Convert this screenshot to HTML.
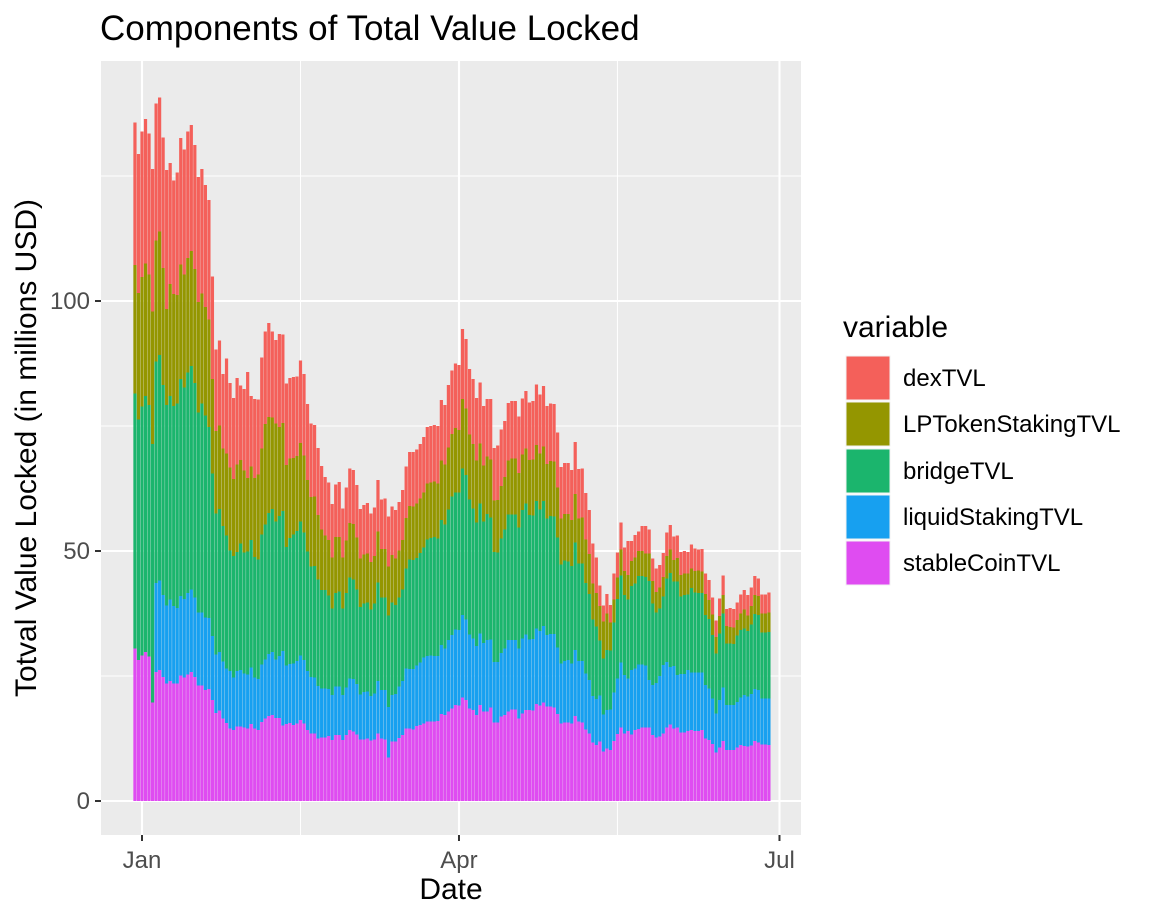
<!DOCTYPE html>
<html><head><meta charset="utf-8"><style>
html,body{margin:0;padding:0;background:#fff;}
svg{display:block;font-family:"Liberation Sans",Arial,sans-serif;}
</style></head><body>
<svg id="chart" width="1152" height="921" viewBox="0 0 1152 921">
<text x="100" y="40" font-size="35" fill="#000">Components of Total Value Locked</text>
<rect x="101" y="61" width="700" height="774" fill="#EBEBEB"/>
<g id="grid"></g>
<g id="bars"></g>
<g id="axes"></g>
<text x="451" y="899" font-size="30" text-anchor="middle" fill="#000">Date</text>
<text transform="translate(36,448) rotate(-90)" font-size="30" text-anchor="middle" fill="#000">Totval Value Locked (in millions USD)</text>
<g>
<text x="843" y="337" font-size="30" fill="#000">variable</text>
<g id="legend"></g>
</g>
</svg>
<script>
const dates0 = -2; // first category: day offset from Jan 1 (Dec 30)
const stableCoinTVL = [30.5,28.2,29.1,29.8,28.9,19.7,25.8,26.2,24.8,23.5,
24,23.5,23.5,25.1,24.7,25.3,25.8,24.8,23.1,23.1,
22.2,22.4,20.2,17.6,18.1,16.5,15.6,14.5,14.2,14.9,
14.9,14.7,14.5,15.4,14.5,14.2,15.8,16.5,17,17.2,
16.6,16.6,15.1,15.4,15.6,
15.2,15.5,16.2,15.5,14.2,13.5,13.5,12.5,12.7,12.7,
13,12.2,13.2,13.2,12.2,13.2,14.2,13.9,13.3,12.3,
12.3,12.5,12.1,12.3,13.5,12.5,12.3,8.7,11.9,11.9,
12.6,13.2,14.5,14.5,14.3,15,15.2,15.5,15.9,15.9,
15.9,16,17.4,17.2,17.9,18.5,19.2,
19.1,20.7,20.2,18.5,18.2,17.2,19.2,17.9,17.9,18.7,
15.7,15.7,16.9,17.2,17.9,18.3,18.3,16.5,17.5,18.2,
18.2,18.1,19.4,19.1,19.7,18.9,18.9,18.7,17.4,15.5,
15.7,15.7,15.5,17,15.9,15.7,14.3,13.5,11.7,11.2,
11.9,9.9,10.5,10.2,12,
13.4,14.7,13.5,14,13.3,14.2,14.4,14.7,14.7,14.7,
13.2,12.7,12.9,13.5,14.7,15.3,14.5,14.7,13.7,13.7,
14,14.2,14,14,14.2,12.5,12.2,11.4,9.7,10.7,
12,10.2,10.2,10.2,10.7,11.2,11,10.9,11.1,12,
11.7,11.3,11.3,11.2];
const liquidStakingTVL = [0,0,0,0,0,0,
17.8,17.9,16.4,15.6,16.3,15.5,15.1,15.9,15.7,16.3,
16.5,15.9,14.6,14.6,14.5,14.2,12.8,11.7,11.7,11.4,
10.9,11.5,10.5,11.1,11.3,10.8,10.8,11.3,10.2,10.2,
11.5,11.8,12.4,12.6,11.7,12.4,14.9,11.7,11.8,
12.3,12.5,12.9,12.7,11.8,11.3,11.2,10.5,9.8,9.8,
9.4,9,9.7,9.7,9,9.5,10.3,10.5,10.1,9,
9.5,9.4,8.9,9.2,10.5,9.7,9.9,10.1,9.3,9.5,
10.3,10.8,12,11.9,12.1,12.1,12.5,13.2,13.1,13.2,
13.1,13,13.8,13.3,14.3,14.7,15.1,
15.1,16.5,16.1,14.8,14.3,13.8,14.3,13.7,14.3,13.6,
12.1,12.1,12.7,13.3,14.3,13.9,13.9,14,15,15.1,
14.1,14.3,15.1,14.9,15.3,14.3,14.5,14.7,13.3,12,
12.3,12.5,12,13.2,12.1,12.3,11.2,10.7,9.3,9.2,
9.2,7.4,7.7,8.1,9.7,
11.1,13,11.7,10.5,12.9,12.3,12.9,12.6,12.4,9.5,
10,10.9,12.1,13.7,13.1,11.5,12.5,10.5,11.7,11.7,
12.2,11.5,11.7,11.7,11.5,10.7,10.3,9.1,7.8,9.5,
10.7,9,9,9,9.1,9.5,10.2,10,10.3,10.4,
10.5,9.2,9.2,9.3];
const bridgeTVL = [51,48.1,49.8,51.2,50.3,51.7,
44.3,45.1,42,40.1,40.7,40,40.9,43.4,42.3,44.1,
44.7,42.9,40,41.8,40.4,38.2,32.5,28.2,28.6,27.1,
26.6,24.1,24.3,23.8,25.3,24.2,24.6,25.5,24.1,23.9,
26,27,28.2,28.6,27.6,28,28,23.7,25.2,
25.8,26,26.8,25.5,23.9,22.1,22.3,21.3,19.7,19.7,
18.7,17.3,18.7,19,17.3,18.9,20.2,19.9,18.9,17.5,
17.7,17.8,17.3,18,19.7,18.5,18.5,18.3,18.5,17.8,
17.8,18.3,20,21.9,21.8,21.5,21.9,22,23.3,23.5,
23.8,23.5,25,24.8,26.1,27.7,27.4,
27.5,29.3,28.9,27,26,24.7,26,24.3,25.2,24.4,
22,21.9,22.9,23.8,25.1,25.1,25.1,24.2,25.7,26.2,
24.9,24.7,25.5,24.3,25,23.3,23.6,23.5,22,19.8,
20.1,19.7,19.5,21.5,19.5,19.5,18.1,17.2,15.3,14.5,
11,11.2,12,11.8,14,
15.9,17.4,16,15.8,16.8,17,17.7,17.7,17.7,19.8,
16.3,14.1,13.5,13.7,16.7,18.8,16.9,18.7,15.5,15.8,
15.1,16.9,16,15.9,15.9,14,13.9,12.7,12,13.3,
14.8,12.3,12.3,12.2,13.3,13.5,13.3,13.1,13.9,15,
15,13.2,13.2,13.3];
const LPTokenStakingTVL = [25.7,25.3,25.9,26.5,26.1,26.5,
24.2,24.7,23.4,19.2,22.4,22.4,21.7,22.9,22.6,22.9,
23,22.8,22.1,22,21.7,21.5,18.9,16.5,16.7,15.5,
16.4,16.6,15.4,17.5,16.7,16.4,14.7,14.7,15.8,17,
17.2,20.1,19.2,18.3,19.6,17.8,17.6,16.4,15.9,
15.3,15,15.7,15.4,14.3,13.9,13.9,12.9,12.1,10.9,
11.1,10.2,11.2,10.9,10.2,10.5,10.9,11.1,10.4,9.7,
9.8,9.8,9.5,9.5,10.2,9.7,9.7,9.8,9.5,9.3,
9.4,9.9,10.1,10.7,10.7,10.9,10.9,11,11.2,11.1,
11.1,11,11.9,12,12.4,12.5,12.9,
12.5,13.9,13.3,13,12.9,12.4,12,11.2,11.5,11.6,
10.3,10.5,10.5,10.5,10.8,11.2,11.2,10.9,11.1,11,
11,11.2,11.2,11.2,10.9,10.9,11,11,10,9.2,
9.3,9.5,9.2,9.7,9,9.2,8.7,8,7.2,6.7,
6.9,7.4,7.3,5.6,4.6,
4.3,5.2,4.8,4.9,5,5.2,5,5,4.7,5.5,
4.5,4.1,4.2,3.9,4.5,4.7,4.3,4.7,4.3,4.3,
4.2,3.9,4.3,4.5,4.3,4.2,3.8,4.1,3.3,3.5,
3.7,3.5,3.3,3.3,3.1,3.3,3.8,3.1,3.7,3.8,
3.8,3.8,3.8,3.9];
const dexTVL = [28.5,27.8,29.1,28.9,28.2,28.5,
27.4,26.8,26.1,27.8,24.2,22.7,24.5,25.3,25,25.3,
25.2,24.8,25,24.9,24.4,23.9,20.5,16.3,17,14.9,
19,16.9,16.2,17.3,14.9,16.3,21.2,14.1,15.8,15,
18.2,18.5,18.8,17.2,16.7,18.6,17.7,16.3,16.1,
16.2,15.9,16.5,16.3,15.2,14.7,14.3,13.4,12.7,11.7,
11.5,10.7,10.5,11,9.8,10.6,10.9,10.8,10.5,9.9,
9.9,10.1,9.7,9.7,10.3,9.9,10.1,10,9.7,9.7,
9.7,10,10.3,10.8,10.9,10.8,10.9,11.1,11.3,11.3,
11.3,11.5,12.1,11.9,12.5,12.7,12.9,
13,14,13.9,13.1,13,12.5,12.2,11.9,11.5,12.1,
10.5,10.9,11.3,11.2,11.5,11.5,11.5,11.3,11.2,11.5,
11.5,11.7,12.1,11.8,12.1,11.6,11.5,11.5,11,10.3,
10.2,10.2,10,10.4,9.9,9.8,9.3,8.8,8,7.1,
4.1,3.2,3.9,3.5,5.2,
5,5.4,4.7,6.8,4,4.5,3.9,5,5.5,4.8,
4.5,4.7,4.5,4.8,4.7,4.9,4.7,4.5,4.6,4.5,
4.3,4.8,4.5,4.2,4.5,4.1,4,3.4,3.3,3.5,
3.9,3.4,3.8,3.7,3.5,3.8,3.9,4.1,3.7,3.8,
3.5,3.8,3.8,4];
const seriesNames = ["stableCoinTVL","liquidStakingTVL","bridgeTVL","LPTokenStakingTVL","dexTVL"];
const seriesColors = ["#DF4CF1","#17A0F0","#1BB56D","#949600","#F4605A"];
const yTicks = [0,50,100];
const yMinor = [25,75,125];
const xTickLabels = ["Jan","Apr","Jul"];
const xTickDays = [0,90,181];
const xMinorDays = [45,135];

const NS="http://www.w3.org/2000/svg";
function el(tag,attrs,parent){const e=document.createElementNS(NS,tag);for(const k in attrs)e.setAttribute(k,attrs[k]);parent.appendChild(e);return e;}
const yS=v=>801-v*5;
const xS=d=>142+d*3.522;
const grid=document.getElementById('grid'),bars=document.getElementById('bars'),axes=document.getElementById('axes'),leg=document.getElementById('legend');
yMinor.forEach(v=>{const l=el('line',{x1:101,x2:801,y1:yS(v),y2:yS(v),stroke:'#fff','stroke-width':1},grid);

});
xMinorDays.forEach(d=>{const l=el('line',{x1:xS(d),x2:xS(d),y1:61,y2:835,stroke:'#fff','stroke-width':1},grid);

});
yTicks.forEach(v=>{const l=el('line',{x1:101,x2:801,y1:yS(v),y2:yS(v),stroke:'#fff','stroke-width':2.1},grid);


const t=el('text',{x:90,y:yS(v)+8,'text-anchor':'end','font-size':24,fill:'#4D4D4D'},axes);t.textContent=v;


const tk=el('line',{x1:95,x2:101,y1:yS(v),y2:yS(v),stroke:'#333','stroke-width':2},axes);

});
xTickDays.forEach((d,i)=>{const l=el('line',{x1:xS(d),x2:xS(d),y1:61,y2:835,stroke:'#fff','stroke-width':2.1},grid);


const t=el('text',{x:xS(d),y:868,'text-anchor':'middle','font-size':24,fill:'#4D4D4D'},axes);t.textContent=xTickLabels[i];


const tk=el('line',{x1:xS(d),x2:xS(d),y1:835,y2:841,stroke:'#333','stroke-width':2},axes);

});
const series=[stableCoinTVL,liquidStakingTVL,bridgeTVL,LPTokenStakingTVL,dexTVL];
const n=stableCoinTVL.length;
for(let i=0;i<n;i++){
  const day=dates0+i; const cx=xS(day); let base=0;
  for(let s=0;s<series.length;s++){
    const v=series[s][i]||0; if(v<=0)continue;
    const r=el('rect',{x:(cx-1.6).toFixed(2),y:yS(base+v).toFixed(2),width:3.2,height:(v*5).toFixed(2),fill:seriesColors[s]},bars);
    
    
    base+=v;
  }
}
const legendOrder=[4,3,2,1,0];
const keyY=[356,402,449,495,541];
legendOrder.forEach((s,i)=>{
  const r=el('rect',{x:846,y:keyY[i],width:44,height:44,fill:seriesColors[s],stroke:'#F2F2F2','stroke-width':1},leg);
  
  
  const t=el('text',{x:903,y:keyY[i]+30,'font-size':24,fill:'#000'},leg);t.textContent=seriesNames[s];
  
  
});
</script>
</body></html>
